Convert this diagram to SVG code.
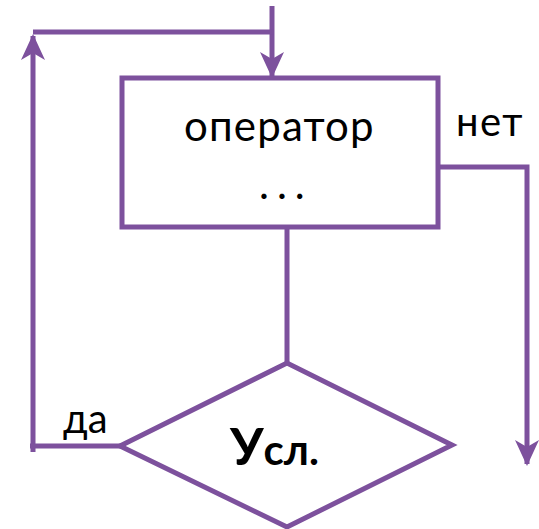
<svg xmlns="http://www.w3.org/2000/svg" width="539" height="529" viewBox="0 0 539 529">
  <style>
    .shape { fill: #ffffff; stroke: #7d519d; stroke-width: 5; stroke-linejoin: miter; }
    .wire { fill: none; stroke: #7d519d; stroke-width: 5; }
    .label { font-family: Lato, "Open Sans", sans-serif; fill: #000000; }
  </style>
  <defs>
    <marker id="arrow" markerUnits="userSpaceOnUse" markerWidth="26" markerHeight="34" refX="24" refY="12" orient="auto" viewBox="0 0 26 24">
      <path d="M0,0 L26,12 L0,24 L7,12 Z" fill="#7d519d"/>
    </marker>
  </defs>

  <g id="connectors">
    <!-- entry from top into the block -->
    <path class="wire" d="M272,6 V76" marker-end="url(#arrow)"/>
    <!-- loop back from "да" up to the entry line -->
    <path class="wire" d="M33,452 V36" marker-end="url(#arrow)"/>
    <path class="wire" d="M33,32 H274"/>
    <path class="wire" d="M30,446 H122"/>
    <!-- block to condition -->
    <path class="wire" d="M287,228 V364"/>
    <!-- exit "нет" -->
    <path class="wire" d="M438,167 H527 V464" marker-end="url(#arrow)"/>
  </g>

  <g id="operator">
    <rect class="shape" x="122" y="78" width="316" height="149"/>
    <text class="label" x="184" y="141" font-size="42" letter-spacing="1.2">оператор</text>
    <text class="label" x="259" y="199" font-size="42" letter-spacing="8">...</text>
  </g>

  <g id="condition">
    <polygon class="shape" points="120,446 287,363 452,445 287,527"/>
    <text class="label" x="230" y="465" font-weight="bold"><tspan font-size="52">У</tspan><tspan font-size="42">сл.</tspan></text>
  </g>

  <g id="labels">
    <text class="label" x="456" y="136" font-size="40" letter-spacing="1.5">нет</text>
    <text class="label" x="63" y="433" font-size="40">да</text>
  </g>
</svg>
